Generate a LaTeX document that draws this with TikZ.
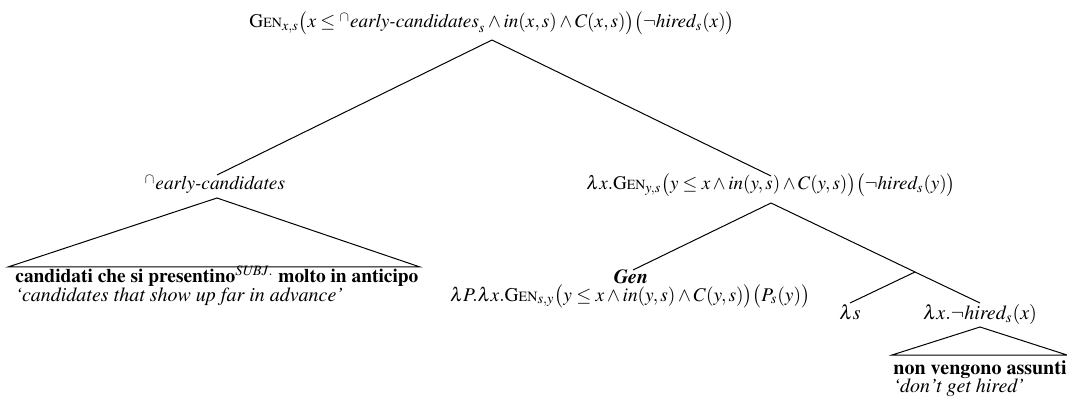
\documentclass[tikz,border=0pt]{standalone}
\usepackage{amsmath}
\usepackage{graphicx}
\usepackage[T1]{fontenc}
\usepackage{mathptmx}
\newcommand{\Gn}{\mbox{\normalfont G\fontsize{7.3}{8}\selectfont EN}}
\newcommand{\ital}[1]{\textit{#1}}
\newcommand{\fitw}[2]{\resizebox{#1pt}{!}{#2}}
\begin{document}
\begin{tikzpicture}[x=0.5pt,y=-0.5pt,
  lbl/.style={inner sep=0pt,anchor=base},
  lblw/.style={inner sep=0pt,anchor=base west},
  edge/.style={line width=0.5pt}]
\useasboundingbox (0,0) rectangle (1067,401);
% labels
\node[lbl] (root) at (492,28) {\fitw{242.5}{$\Gn_{x,s}\bigl(x\le{}^{\cap}\ital{early-candidates}_s\wedge \ital{in}(x,s)\wedge C(x,s)\bigr)\bigl(\neg\ital{hired}_s(x)\bigr)$}};
\node[lbl] (ec) at (215,190) {\fitw{70}{${}^{\cap}\ital{early-candidates}$}};
\node[lbl] (vp) at (771,190) {\fitw{184.5}{$\lambda x.\Gn_{y,s}\bigl(y\le x\wedge \ital{in}(y,s)\wedge C(y,s)\bigr)\bigl(\neg\ital{hired}_s(y)\bigr)$}};
\node[lbl] (gen) at (631,284) {\textbf{\textit{Gen}}};
\node[lbl] (genf) at (630,301) {\fitw{180}{$\lambda P.\lambda x.\Gn_{s,y}\bigl(y\le x\wedge \ital{in}(y,s)\wedge C(y,s)\bigr)\bigl(P_s(y)\bigr)$}};
\node[lbl] (ls) at (850,320) {$\lambda s$};
\node[lbl] (hx) at (980,320) {$\lambda x.\neg\ital{hired}_s(x)$};
\node[lblw] (it1) at (15,283) {\fitw{201.5}{\textbf{candidati che si presentino}$^{\mathit{SUBJ.}}$ \textbf{molto in anticipo}}};
\node[lblw] (gl1) at (15,301) {\textit{`candidates that show up far in advance'}};
\node[lblw] (it2) at (893,374) {\textbf{non vengono assunti}};
\node[lblw] (gl2) at (893,392) {\textit{`don't get hired'}};
% attachment points
\coordinate (root-b) at (492,40);
\coordinate (ec-t) at (217,175);
\coordinate (ec-b) at (217,198);
\coordinate (vp-t) at (771,176);
\coordinate (vp-b) at (771,203);
\coordinate (gen-t) at (633,270);
\coordinate (sp) at (915,272);
\coordinate (ls-t) at (850,303);
\coordinate (hx-t) at (980,303);
\coordinate (hx-b) at (980,327);
\coordinate (t1l) at (8,267);
\coordinate (t1r) at (420,267);
\coordinate (t2l) at (892,355);
\coordinate (t2r) at (1067,355);
% edges
\draw[edge] (root-b) -- (ec-t);
\draw[edge] (root-b) -- (vp-t);
\draw[edge] (vp-b) -- (gen-t);
\draw[edge] (vp-b) -- (sp);
\draw[edge] (sp) -- (ls-t);
\draw[edge] (sp) -- (hx-t);
\draw[edge] (ec-b) -- (t1l) -- (t1r) -- cycle;
\draw[edge] (hx-b) -- (t2l) -- (t2r) -- cycle;
\end{tikzpicture}
\end{document}
